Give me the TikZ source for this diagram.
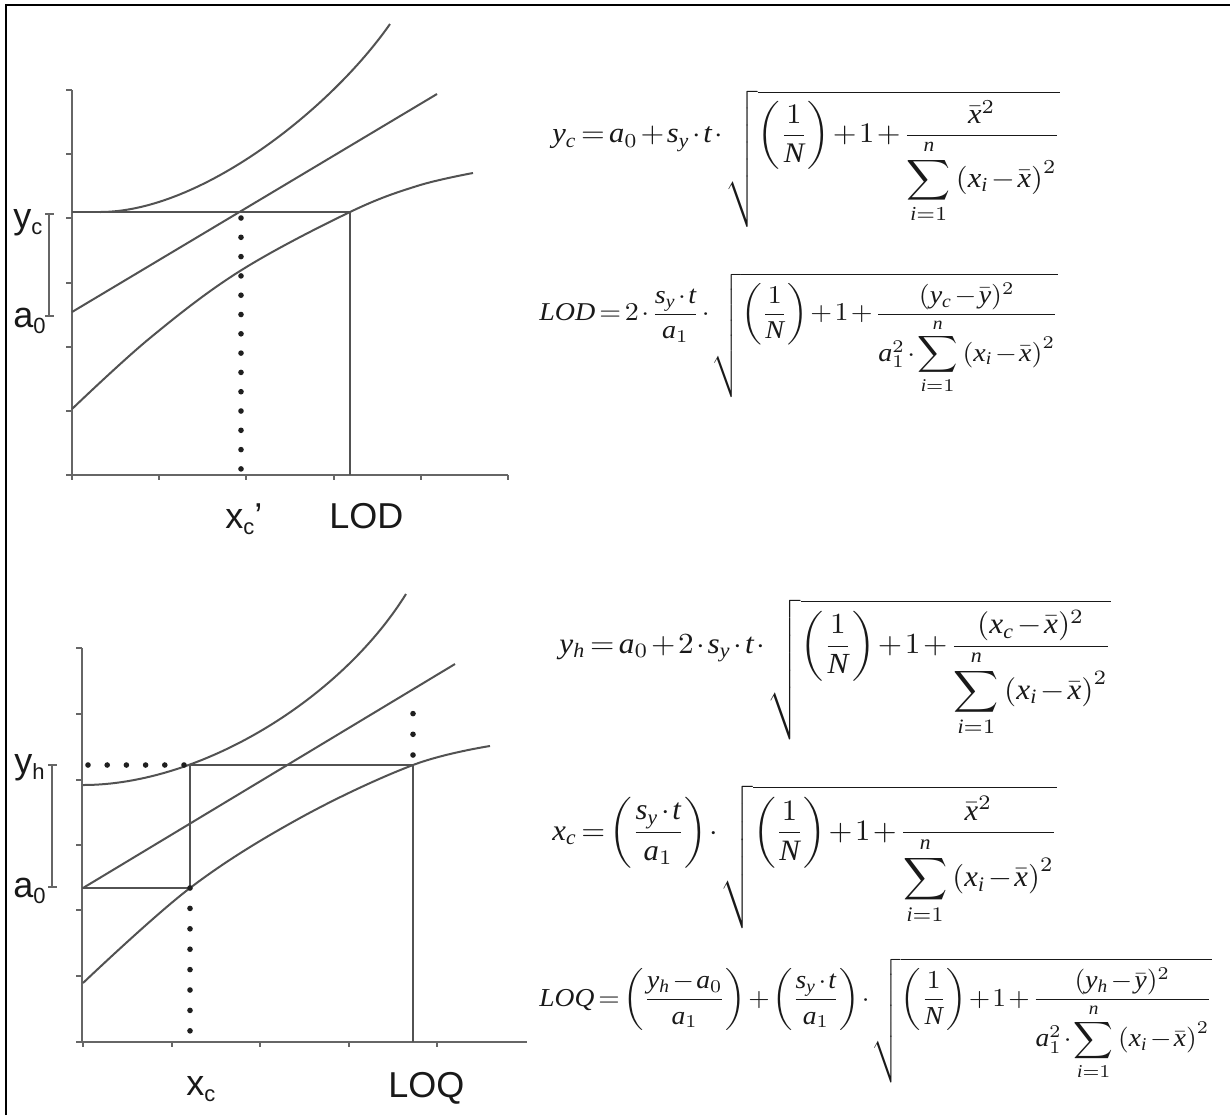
\documentclass[tikz,border=0pt]{standalone}
\usepackage{amsmath}
\usepackage{graphicx}
\usepackage{fontspec}
\newfontfamily\labfont{Liberation Sans}
\newfontfamily\tnrfont[NFSSFamily=ltnr]{Liberation Serif}
\DeclareSymbolFont{letters}{TU}{ltnr}{m}{it}
\DeclareSymbolFont{operators}{TU}{ltnr}{m}{n}
\newcommand\Sxx{\sum\limits_{i=1}^{n}\left(x_i-\bar{x}\right)^2}
\newcommand\Rinv{\left(\dfrac{1}{N}\right)}
\newcommand\lsub[1]{\raisebox{-0.35ex}{\fontsize{11}{11}\selectfont #1}}
\newcommand\EQbox[3]{{\medmuskip=1.5mu\thickmuskip=2.5mu\resizebox*{#1}{#2}{$\displaystyle #3$}}}
\begin{document}
\begin{tikzpicture}[x=0.5pt,y=-0.5pt,
  ln/.style={draw=black!68, line width=1pt},
  ax/.style={draw=black!60, line width=1.1pt},
  dots/.style={draw=black!88, line width=2.8pt, line cap=round},
  lbl/.style={font=\labfont\fontsize{18}{20}\selectfont, text=black!90, inner sep=0pt},
  eq/.style={inner sep=0pt, anchor=north west, text=black!90}]

\useasboundingbox (0,0) rectangle (1230,1115);
\coordinate (fb) at (6,1115);
\coordinate (ftl) at (6,5);
\coordinate (ftr) at (1230,5);
\draw[line width=1.3pt] (fb) -- (ftl) -- (ftr);

% ================= Plot 1 =================
\coordinate (o1) at (72,475);
\coordinate (ytop1) at (72,90);
\coordinate (xend1) at (508,475);
\draw[ax] (68,475) -- (xend1);
\draw[ax] (o1) -- (ytop1);
\foreach \y in {90,154,218,283,347,411,475} \draw[ax] (66,\y) -- (72,\y);
\foreach \x in {72,159,246,334,421,508} \draw[ax] (\x,475) -- (\x,480);

% curves
\draw[ln] (100,212) .. controls (200,212) and (330,110) .. (390,24);
\coordinate (m1s) at (72,312);
\coordinate (m1e) at (437,94);
\draw[ln] (m1s) -- (m1e);
\draw[ln] plot[smooth, tension=0.6] coordinates {(72,409) (150,338) (240,271) (350,212) (417,186) (473,173)};

% construction lines
\coordinate (yc1) at (72,212);
\coordinate (lodtop) at (350,212);
\coordinate (lodbot) at (350,475);
\draw[ln] (yc1) -- (lodtop) -- (lodbot);
\coordinate (xcp1) at (241,218);
\coordinate (xcp2) at (241,469);
\draw[dots, dash pattern=on 0pt off 9.65pt] (xcp1) -- (xcp2);

% bracket
\draw[ax] (49,214) -- (49,316);
\draw[ax] (45,214) -- (54,214);
\draw[ax] (45,316) -- (54,316);

\node[lbl, anchor=base west] (lyc) at (13,228) {y\lsub{c}};
\node[lbl, anchor=base west] (la01) at (13,327) {a\lsub{0}};
\node[lbl, anchor=base west] (lxcp) at (225,528) {x\lsub{c}’};
\node[lbl, anchor=base west] (llod) at (329,528) {LOD};

% ================= Plot 2 =================
\coordinate (o2) at (82,1042);
\coordinate (ytop2) at (82,648);
\coordinate (xend2) at (527,1042);
\draw[ax] (78,1042) -- (xend2);
\draw[ax] (o2) -- (ytop2);
\foreach \y in {648,714,780,845,910,976,1042} \draw[ax] (76,\y) -- (82,\y);
\foreach \x in {83,172,260,349,437} \draw[ax] (\x,1042) -- (\x,1047);

\draw[ln] (83,785) .. controls (200,785) and (340,700) .. (406,594);
\coordinate (m2s) at (83,888);
\coordinate (m2e) at (455,664);
\draw[ln] (m2s) -- (m2e);
\draw[ln] plot[smooth, tension=0.6] coordinates {(83,983) (190,888) (300,818) (413,765) (490,746)};

\coordinate (yhA) at (88,765);
\coordinate (yhB) at (184,765);
\coordinate (xcT) at (190,765);
\coordinate (xcM) at (190,888);
\coordinate (xcB) at (190,1031);
\coordinate (a0L) at (82,888);
\coordinate (loqT) at (413,765);
\coordinate (loqB) at (413,1042);
\coordinate (loqD1) at (413,755);
\coordinate (loqD2) at (413,693);
\draw[dots, dash pattern=on 0pt off 9.6pt] (yhA) -- (yhB);
\draw[ln] (xcT) -- (loqT) -- (loqB);
\draw[ln] (xcT) -- (xcM) -- (a0L);
\draw[dots, dash pattern=on 0pt off 10.2pt] (xcM) -- (xcB);
\draw[dots, dash pattern=on 0pt off 10.35pt] (loqD1) -- (loqD2);

\draw[ax] (52,765) -- (52,887);
\draw[ax] (48,765) -- (57,765);
\draw[ax] (48,887) -- (57,887);

\node[lbl, anchor=base west] (lyh) at (14,773) {y\lsub{h}};
\node[lbl, anchor=base west] (la02) at (13,897) {a\lsub{0}};
\node[lbl, anchor=base west] (lxc) at (186,1095) {x\lsub{c}};
\node[lbl, anchor=base west] (lloq) at (388,1097) {LOQ};

% ================= Formulas =================
\node[eq] (f1) at (552,90) {\EQbox{254pt}{68.5pt}{
  y_c = a_0 + s_y\cdot t\cdot\sqrt{\Rinv+1+\dfrac{\bar{x}^2}{\displaystyle\Sxx}}}};
\node[eq] (f2) at (539,273) {\EQbox{259.5pt}{62pt}{
  LOD = 2\cdot\dfrac{s_y\cdot t}{a_1}\cdot\sqrt{\Rinv+1+\dfrac{(y_c-\bar{y})^2}{a_1^2\cdot\displaystyle\Sxx}}}};
\node[eq] (f3) at (559,599) {\EQbox{276pt}{70.5pt}{
  y_h = a_0 + 2\cdot s_y\cdot t\cdot\sqrt{\Rinv+1+\dfrac{(x_c-\bar{x})^2}{\displaystyle\Sxx}}}};
\node[eq] (f4) at (552,785) {\EQbox{252.5pt}{71.5pt}{
  x_c = \left(\dfrac{s_y\cdot t}{a_1}\right)\cdot\sqrt{\Rinv+1+\dfrac{\bar{x}^2}{\displaystyle\Sxx}}}};
\node[eq] (f5) at (539,958) {\EQbox{336.5pt}{62.5pt}{
  LOQ = \left(\dfrac{y_h-a_0}{a_1}\right)+\left(\dfrac{s_y\cdot t}{a_1}\right)\cdot\sqrt{\Rinv+1+\dfrac{(y_h-\bar{y})^2}{a_1^2\cdot\displaystyle\Sxx}}}};
\end{tikzpicture}
\end{document}
